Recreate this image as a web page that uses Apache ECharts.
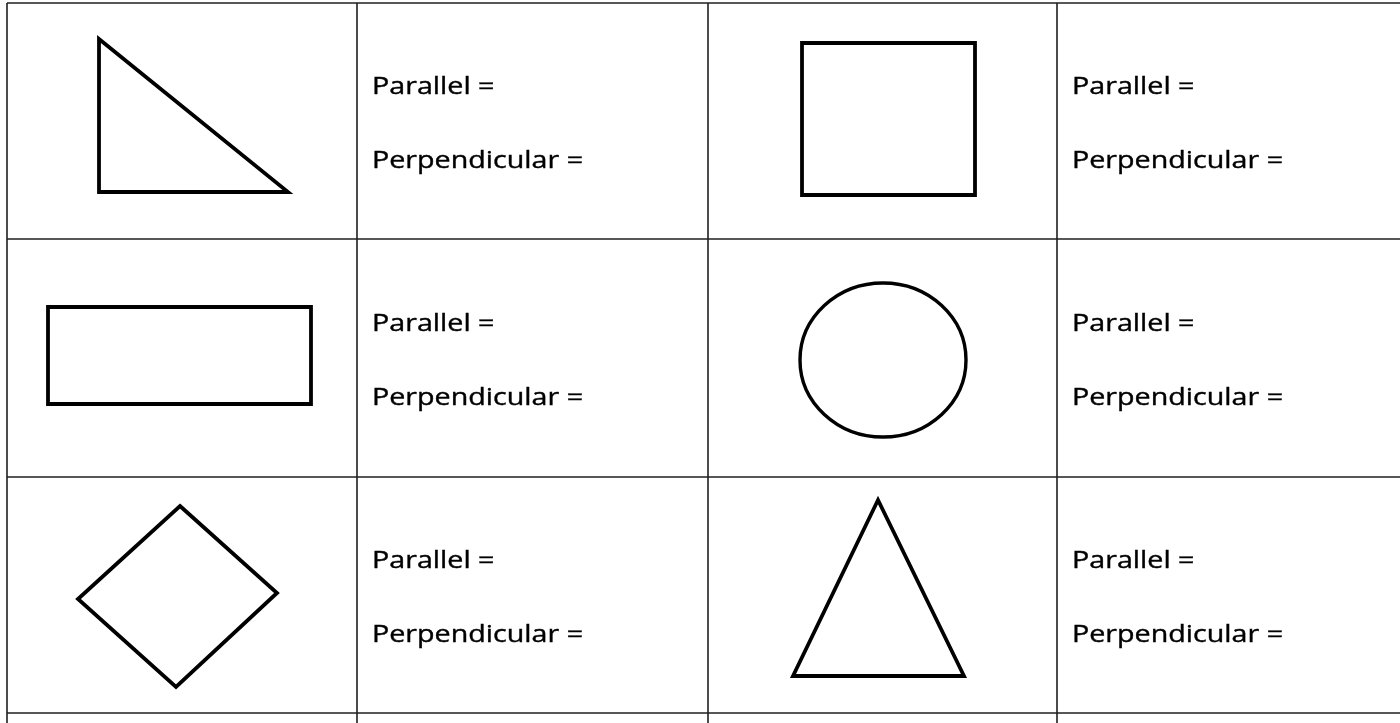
<!DOCTYPE html>
<html lang="en">

<head>
    <meta charset="UTF-8">
    <title>Parallel and Perpendicular</title>
    <script src="https://cdn.jsdelivr.net/npm/echarts@6/dist/echarts.min.js"></script>
    <style>
        html, body { margin: 0; padding: 0; background: #fff; }
    </style>
</head>

<body>
    <div id="main" style="width: 1400px;height:723px;"></div>
    <script>
        // table rules (page pixels)
        const rowLines = [3, 239, 477, 713];
        const colLines = [7, 357, 708, 1057];

        // shape outlines
        const rightTriangle = [[99, 39], [99, 192], [288, 192]];
        const square = [[802, 43], [975, 43], [975, 195], [802, 195]];
        const rectangle = [[48, 307], [311, 307], [311, 404], [48, 404]];
        const circle = [883, 360, 83, 77]; // cx, cy, rx, ry
        const rhombus = [[180, 506], [277, 593], [176, 687], [78, 599]];
        const isoTriangle = [[878, 500], [964, 676], [793, 676]];

        // worksheet labels
        const labelTexts = ['Parallel =', 'Perpendicular ='];
        const labelColumns = [372, 1072];
        const labelBaselines = [[94, 168], [331, 405], [568, 642]];

        let myChart = echarts.init(document.getElementById('main'));

        let ruleData = [];
        rowLines.forEach(function (y) { ruleData.push([colLines[0], y, 1400, y]); });
        colLines.forEach(function (x) { ruleData.push([x, rowLines[0], x, 723]); });

        let polys = [rightTriangle, square, rectangle, rhombus, isoTriangle];

        let labelData = [];
        labelBaselines.forEach(function (pair) {
            labelColumns.forEach(function (x) {
                labelData.push([x, pair[0] - 7, 0]);
                labelData.push([x, pair[1] - 7, 1]);
            });
        });

        let option = {
            animation: false,
            grid: { left: 0, right: 0, top: 0, bottom: 0 },
            xAxis: { type: 'value', min: 0, max: 1400, show: false },
            yAxis: { type: 'value', min: 0, max: 723, inverse: true, show: false },
            series: [
                {
                    // table grid
                    type: 'custom',
                    clip: false,
                    data: ruleData,
                    renderItem: function (params, api) {
                        let a = api.coord([api.value(0), api.value(1)]);
                        let b = api.coord([api.value(2), api.value(3)]);
                        return {
                            type: 'line',
                            shape: { x1: a[0], y1: a[1], x2: b[0], y2: b[1] },
                            style: { stroke: '#1f1f1f', lineWidth: 1.6 }
                        };
                    }
                },
                {
                    // straight-edged shapes
                    type: 'custom',
                    clip: false,
                    data: polys.map(function (p, i) { return [i]; }),
                    renderItem: function (params, api) {
                        let pts = polys[params.dataIndex].map(function (p) { return api.coord(p); });
                        return {
                            type: 'polygon',
                            shape: { points: pts },
                            style: { fill: 'none', stroke: '#000', lineWidth: 3.8, lineJoin: 'miter' }
                        };
                    }
                },
                {
                    // circle
                    type: 'custom',
                    clip: false,
                    data: [circle],
                    renderItem: function (params, api) {
                        let c = api.coord([api.value(0), api.value(1)]);
                        return {
                            type: 'ellipse',
                            shape: { cx: c[0], cy: c[1], rx: api.value(2), ry: api.value(3) },
                            style: { fill: 'none', stroke: '#000', lineWidth: 3.4 }
                        };
                    }
                },
                {
                    // labels
                    type: 'custom',
                    clip: false,
                    data: labelData,
                    renderItem: function (params, api) {
                        let p = api.coord([api.value(0), api.value(1)]);
                        return {
                            type: 'text',
                            x: p[0],
                            y: p[1],
                            scaleX: 1.17,
                            style: {
                                text: labelTexts[api.value(2)],
                                x: 0,
                                y: 0,
                                fill: '#000',
                                stroke: '#000',
                                lineWidth: 0.4,
                                font: '24.5px "Open Sans"',
                                align: 'left',
                                verticalAlign: 'middle'
                            }
                        };
                    }
                }
            ]
        };
        myChart.setOption(option);
    </script>
</body>

</html>
